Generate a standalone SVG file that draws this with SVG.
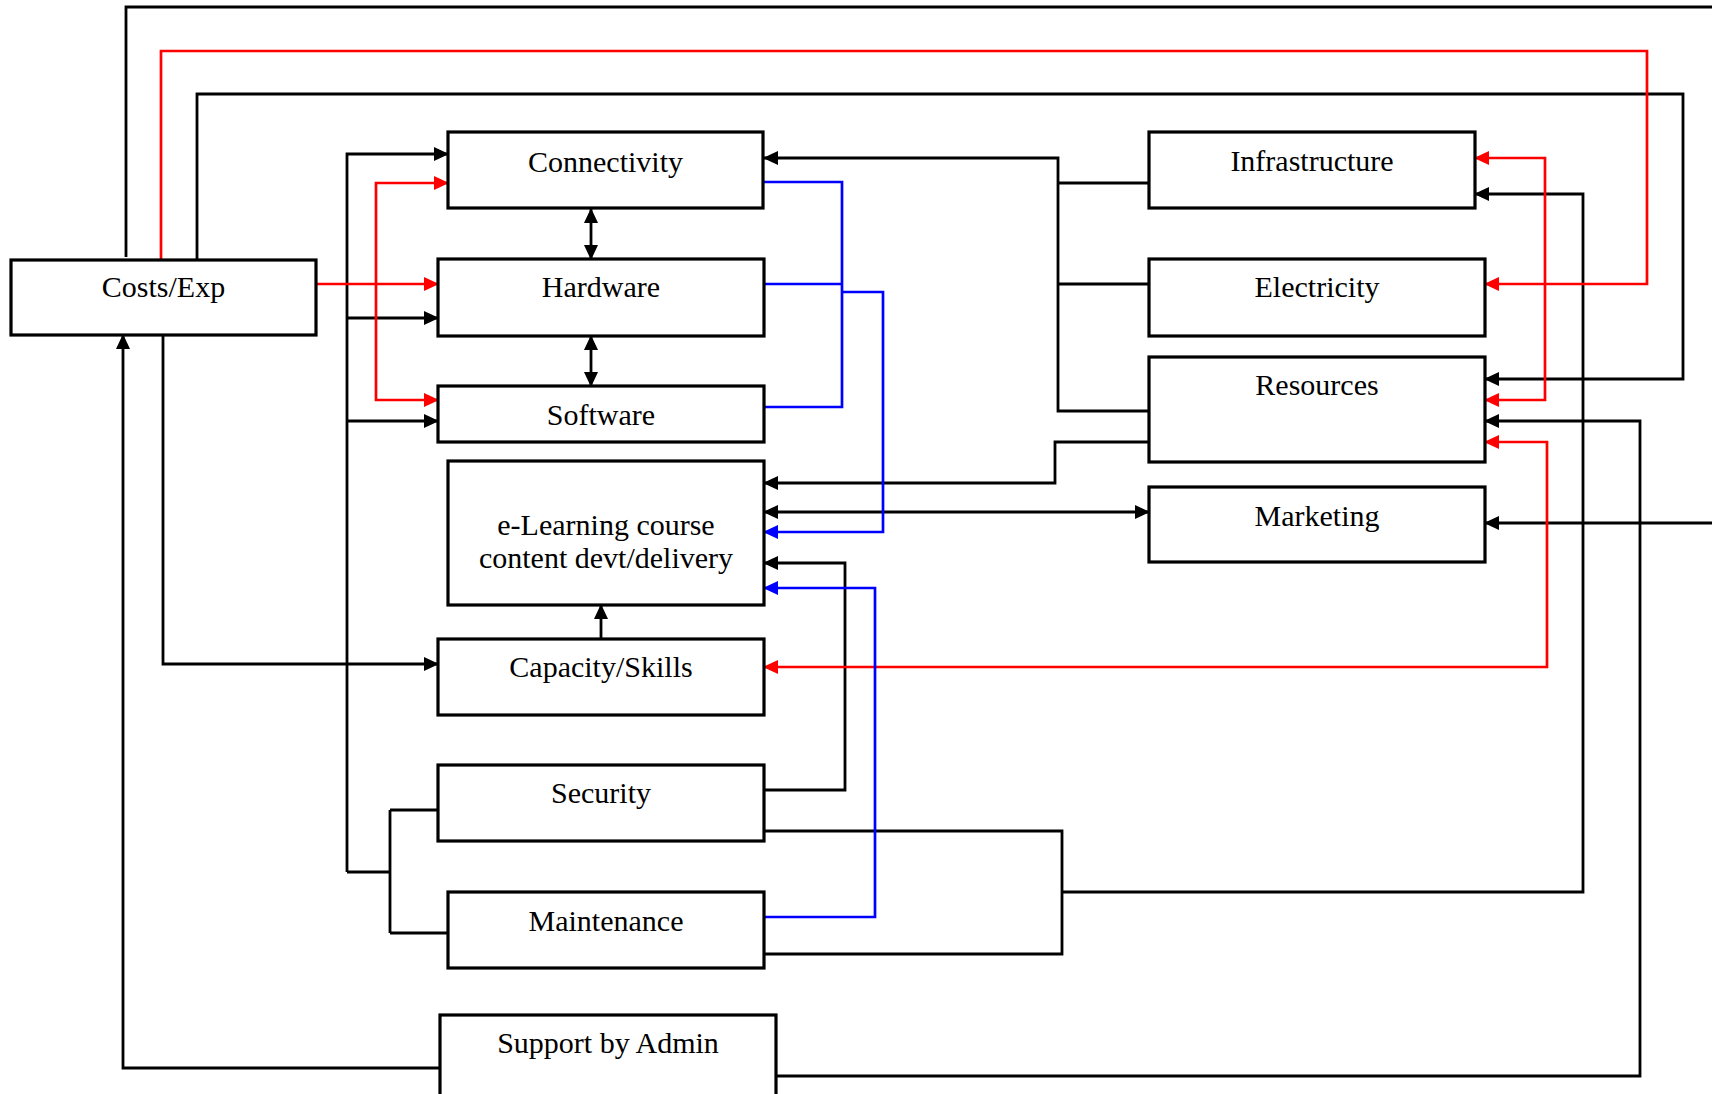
<svg xmlns="http://www.w3.org/2000/svg" width="1712" height="1094" viewBox="0 0 1712 1094">
<style>
.box{fill:#fff;stroke:#000;stroke-width:3.2}
.lbl{font-family:"Liberation Serif","Times New Roman",serif;font-size:30px;fill:#000;text-anchor:middle}
.k{fill:none;stroke:#000;stroke-width:2.8}
.r{fill:none;stroke:#ff0000;stroke-width:2.7}
.b{fill:none;stroke:#0000ff;stroke-width:2.7}
</style>
<defs>
<marker id="ak" markerUnits="userSpaceOnUse" markerWidth="15" markerHeight="14" viewBox="0 0 15 14" refX="14" refY="7" orient="auto-start-reverse"><path d="M0,0 L15,7 L0,14 z" fill="#000"/></marker>
<marker id="ar" markerUnits="userSpaceOnUse" markerWidth="15" markerHeight="14" viewBox="0 0 15 14" refX="14" refY="7" orient="auto-start-reverse"><path d="M0,0 L15,7 L0,14 z" fill="#ff0000"/></marker>
<marker id="ab" markerUnits="userSpaceOnUse" markerWidth="15" markerHeight="14" viewBox="0 0 15 14" refX="14" refY="7" orient="auto-start-reverse"><path d="M0,0 L15,7 L0,14 z" fill="#0000ff"/></marker>
</defs>
<rect width="1712" height="1094" fill="#fff"/>
<g id="connectors">
<path class="k" d="M126,257 V7 H1712"/>
<path class="k" d="M197,260 V94 H1683 V379 H1485" marker-end="url(#ak)"/>
<path class="k" d="M347,872 V154 H448" marker-end="url(#ak)"/>
<path class="k" d="M347,318 H438" marker-end="url(#ak)"/>
<path class="k" d="M347,421 H438" marker-end="url(#ak)"/>
<path class="k" d="M347,872 H390 M390,810 V933 M390,810 H438 M390,933 H448"/>
<path class="k" d="M163,335 V664 H438" marker-end="url(#ak)"/>
<path class="k" d="M440,1068 H123 V335" marker-end="url(#ak)"/>
<path class="k" d="M591,209 V259" marker-start="url(#ak)" marker-end="url(#ak)"/>
<path class="k" d="M591,336 V386" marker-start="url(#ak)" marker-end="url(#ak)"/>
<path class="k" d="M601,639 V605" marker-end="url(#ak)"/>
<path class="k" d="M1149,183 H1058 M1149,284 H1058"/>
<path class="k" d="M1149,411 H1058 V158 H764" marker-end="url(#ak)"/>
<path class="k" d="M1149,442 H1055 V483 H764" marker-end="url(#ak)"/>
<path class="k" d="M764,512 H1149" marker-start="url(#ak)" marker-end="url(#ak)"/>
<path class="k" d="M764,790 H845 V563 H764" marker-end="url(#ak)"/>
<path class="k" d="M764,831 H1062 V954 H764"/>
<path class="k" d="M1062,892 H1583 V194 H1475" marker-end="url(#ak)"/>
<path class="k" d="M776,1076 H1640 V421 H1485" marker-end="url(#ak)"/>
<path class="k" d="M1712,523 H1485" marker-end="url(#ak)"/>
<path class="r" d="M161,260 V51 H1647 V284 H1485" marker-end="url(#ar)"/>
<path class="r" d="M316,284 H438" marker-end="url(#ar)"/>
<path class="r" d="M448,183 H376 V400 H438" marker-start="url(#ar)" marker-end="url(#ar)"/>
<path class="r" d="M1475,158 H1545 V400 H1485" marker-start="url(#ar)" marker-end="url(#ar)"/>
<path class="r" d="M1485,442 H1547 V667 H764" marker-start="url(#ar)" marker-end="url(#ar)"/>
<path class="b" d="M764,182 H842 V407 H764 M764,284 H842"/>
<path class="b" d="M842,292 H883 V532 H764" marker-end="url(#ab)"/>
<path class="b" d="M764,917 H875 V588 H764" marker-end="url(#ab)"/>
</g>
<g id="costs"><rect class="box" x="11" y="260" width="305" height="75"/><text class="lbl" x="163.5" y="297">Costs/Exp</text></g>
<g id="connectivity"><rect class="box" x="448" y="132" width="315" height="76"/><text class="lbl" x="605.5" y="172">Connectivity</text></g>
<g id="hardware"><rect class="box" x="438" y="259" width="326" height="77"/><text class="lbl" x="601" y="297">Hardware</text></g>
<g id="software"><rect class="box" x="438" y="386" width="326" height="56"/><text class="lbl" x="601" y="425">Software</text></g>
<g id="elearning"><rect class="box" x="448" y="461" width="316" height="144"/><text class="lbl" x="606" y="535">e-Learning course</text><text class="lbl" x="606" y="568">content devt/delivery</text></g>
<g id="capacity"><rect class="box" x="438" y="639" width="326" height="76"/><text class="lbl" x="601" y="677">Capacity/Skills</text></g>
<g id="security"><rect class="box" x="438" y="765" width="326" height="76"/><text class="lbl" x="601" y="803">Security</text></g>
<g id="maintenance"><rect class="box" x="448" y="892" width="316" height="76"/><text class="lbl" x="606" y="931">Maintenance</text></g>
<g id="support"><rect class="box" x="440" y="1015" width="336" height="100"/><text class="lbl" x="608" y="1053">Support by Admin</text></g>
<g id="infrastructure"><rect class="box" x="1149" y="132" width="326" height="76"/><text class="lbl" x="1312" y="171">Infrastructure</text></g>
<g id="electricity"><rect class="box" x="1149" y="259" width="336" height="77"/><text class="lbl" x="1317" y="297">Electricity</text></g>
<g id="resources"><rect class="box" x="1149" y="357" width="336" height="105"/><text class="lbl" x="1317" y="395">Resources</text></g>
<g id="marketing"><rect class="box" x="1149" y="487" width="336" height="75"/><text class="lbl" x="1317" y="526">Marketing</text></g>
</svg>
